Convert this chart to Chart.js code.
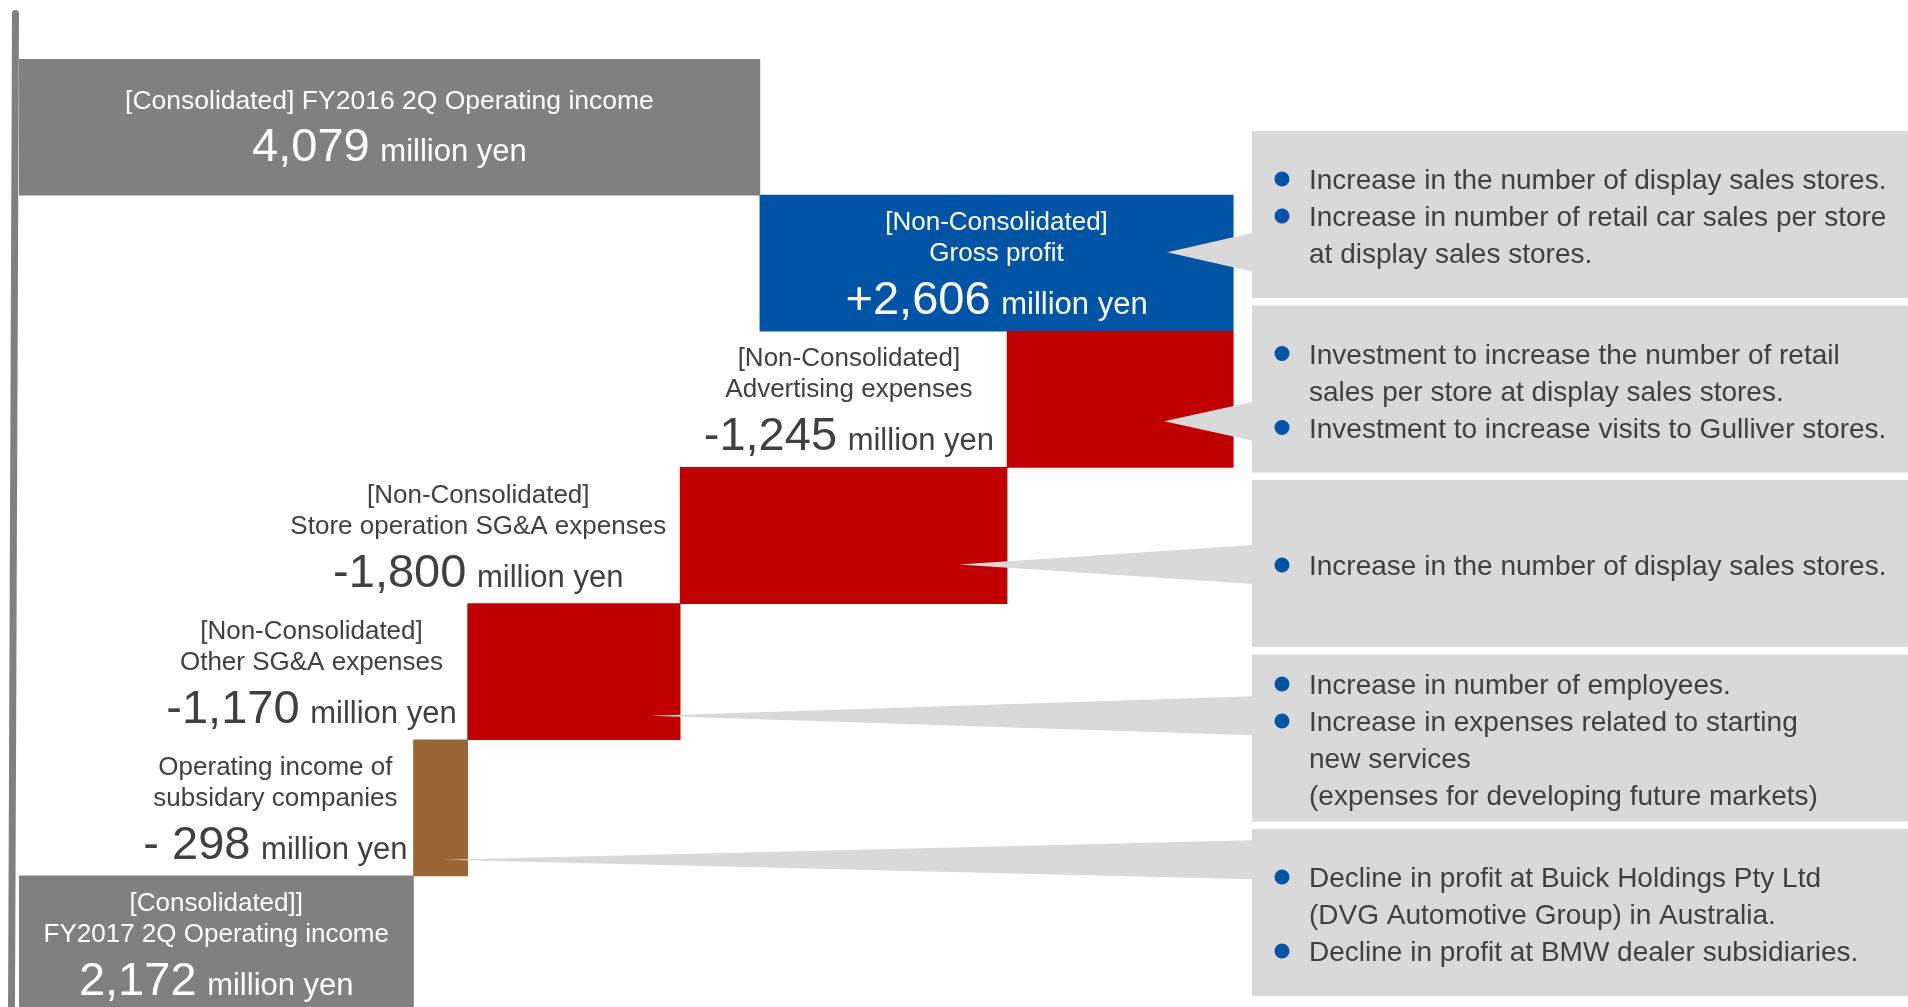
<!DOCTYPE html>
<html>
<head>
<meta charset="utf-8">
<title>Operating income bridge</title>
<script src="https://cdn.jsdelivr.net/npm/chart.js@4.4.1/dist/chart.umd.min.js"></script>
<style>
  html, body { margin:0; padding:0; background:#fff; overflow:hidden; }
  #wrap { position:relative; width:1908px; height:1007px; overflow:hidden; }
  #wrap canvas { position:absolute; left:0; top:0; }
</style>
</head>
<body>
<div id="wrap"><canvas id="bridge" width="1908" height="1012"></canvas></div>
<script>
// --- data (million yen) ---
const categories = ['FY2016 2Q', 'Gross profit', 'Advertising expenses', 'Store operation SG&A expenses', 'Other SG&A expenses', 'Subsidiary companies', 'FY2017 2Q'];
const startTotal = 4079;
const changes = [2606, -1245, -1800, -1170, -298];
const endTotal = 2172;

const headLines = [
  ['[Consolidated] FY2016 2Q Operating income'],
  ['[Non-Consolidated]', 'Gross profit'],
  ['[Non-Consolidated]', 'Advertising expenses'],
  ['[Non-Consolidated]', 'Store operation SG&A expenses'],
  ['[Non-Consolidated]', 'Other SG&A expenses'],
  ['Operating income of', 'subsidary companies'],
  ['[Consolidated]]', 'FY2017 2Q Operating income']
];
const valueTexts = ['4,079', '+2,606', '-1,245', '-1,800', '-1,170', '- 298', '2,172'];
const unitText = 'million yen';

// one entry per change bar; each bullet is a list of wrapped lines
const notes = [
  [['Increase in the number of display sales stores.'], ['Increase in number of retail car sales per store', 'at display sales stores.']],
  [['Investment to increase the number of retail', 'sales per store at display sales stores.'], ['Investment to increase visits to Gulliver stores.']],
  [['Increase in the number of display sales stores.']],
  [['Increase in number of employees.'], ['Increase in expenses related to starting', 'new services', '(expenses for developing future markets)']],
  [['Decline in profit at Buick Holdings Pty Ltd', '(DVG Automotive Group) in Australia.'], ['Decline in profit at BMW dealer subsidiaries.']]
];

// --- styling ---
const FONT = '"Liberation Sans", Arial, sans-serif';
const barColors = ['#808080', '#0054A5', '#C00000', '#C00000', '#C00000', '#996633', '#808080'];
const labelInside = [true, true, false, false, false, false, true];
const labelGap = [0, 0, 13, 14, 11, 6, 0];
const calloutBox = { left: 1252, top: 131, height: 167, gap: 7.5, fill: '#D9D9D9' };
const pointerDx = [66, 69, 48, 30, 24];   // tip distance back from bar end
const pointerDy = [-11, 22, 29, 44, 52];  // tip offset from bar centre

// floating ranges for the waterfall
const ranges = [[0, startTotal]];
let running = startTotal;
changes.forEach(d => { ranges.push([running, running + d]); running += d; });
ranges.push([0, endTotal]);

function drawValueLine(ctx, value, left, baseline) {
  ctx.font = `47px ${FONT}`;
  ctx.fillText(value, left, baseline);
  const w = ctx.measureText(value).width;
  ctx.font = `31px ${FONT}`;
  ctx.fillText(' ' + unitText, left + w + 2, baseline);
}
function valueLineWidth(ctx, value) {
  ctx.font = `47px ${FONT}`;
  const w = ctx.measureText(value).width;
  ctx.font = `31px ${FONT}`;
  return w + 2 + ctx.measureText(' ' + unitText).width;
}

const bridgeDecor = {
  id: 'bridgeDecor',
  beforeDatasetsDraw(chart) {
    const { ctx, chartArea } = chart;
    const x0 = chart.scales.x.getPixelForValue(0);
    ctx.save();
    ctx.strokeStyle = '#808080';
    ctx.lineWidth = 7;
    ctx.lineCap = 'round';
    ctx.beginPath();
    ctx.moveTo(x0 - 3.5, 13.5);
    ctx.lineTo(x0 - 7.5, chartArea.bottom);
    ctx.stroke();
    ctx.restore();
  },
  afterDatasetsDraw(chart) {
    const { ctx } = chart;
    const bars = chart.getDatasetMeta(0).data;
    ctx.save();

    // callout boxes + pointers
    notes.forEach((items, i) => {
      const bar = bars[i + 1];
      const right = Math.max(bar.x, bar.base);
      const tipX = right - pointerDx[i];
      const tipY = bar.y + pointerDy[i];
      const top = calloutBox.top + i * (calloutBox.height + calloutBox.gap);
      ctx.fillStyle = calloutBox.fill;
      ctx.fillRect(calloutBox.left, top, chart.width - calloutBox.left, calloutBox.height);
      ctx.beginPath();
      ctx.moveTo(tipX, tipY);
      ctx.lineTo(calloutBox.left + 1, tipY - 19.5);
      ctx.lineTo(calloutBox.left + 1, tipY + 19.5);
      ctx.closePath();
      ctx.fill();

      const lines = [];
      items.forEach(it => it.forEach((t, k) => lines.push({ t, bullet: k === 0 })));
      const step = 37;
      const mid = top + calloutBox.height / 2 + 1.5;
      ctx.font = `28px ${FONT}`;
      ctx.textAlign = 'left';
      ctx.textBaseline = 'alphabetic';
      lines.forEach((ln, k) => {
        const cy = mid + (k - (lines.length - 1) / 2) * step;
        if (ln.bullet) {
          ctx.fillStyle = '#0054A5';
          ctx.beginPath();
          ctx.arc(calloutBox.left + 30, cy, 7.5, 0, Math.PI * 2);
          ctx.fill();
        }
        ctx.fillStyle = '#404040';
        ctx.fillText(ln.t, calloutBox.left + 57, cy + 10);
      });
    });

    // bar labels
    bars.forEach((bar, i) => {
      const left = Math.min(bar.x, bar.base);
      const right = Math.max(bar.x, bar.base);
      const heads = headLines[i];
      const offs = heads.length === 1 ? [-18, 34] : [-33, -2, 51];
      const headFont = heads.length === 1 ? 26.5 : 26;
      ctx.font = `${headFont}px ${FONT}`;
      const headW = heads.map(h => ctx.measureText(h).width);
      const valW = valueLineWidth(ctx, valueTexts[i]);
      const blockW = Math.max(valW, ...headW);
      const cx = labelInside[i] ? (left + right) / 2 : left - labelGap[i] - blockW / 2;
      ctx.fillStyle = labelInside[i] ? '#FFFFFF' : '#404040';
      ctx.textBaseline = 'alphabetic';
      ctx.textAlign = 'center';
      ctx.font = `${headFont}px ${FONT}`;
      heads.forEach((h, k) => ctx.fillText(h, cx, bar.y + offs[k]));
      ctx.textAlign = 'left';
      drawValueLine(ctx, valueTexts[i], cx - valW / 2, bar.y + offs[heads.length]);
    });
    ctx.restore();
  }
};

new Chart(document.getElementById('bridge'), {
  type: 'bar',
  data: {
    labels: categories,
    datasets: [{
      data: ranges,
      backgroundColor: barColors,
      borderWidth: 0,
      barPercentage: 1,
      categoryPercentage: 1
    }]
  },
  options: {
    indexAxis: 'y',
    responsive: false,
    animation: false,
    layout: { padding: { top: 59, left: 19, right: 0, bottom: 0 } },
    plugins: { legend: { display: false }, tooltip: { enabled: false } },
    scales: {
      x: { type: 'linear', min: 0, max: 10400, display: false },
      y: { type: 'category', display: false }
    }
  },
  plugins: [bridgeDecor]
});
</script>
</body>
</html>
